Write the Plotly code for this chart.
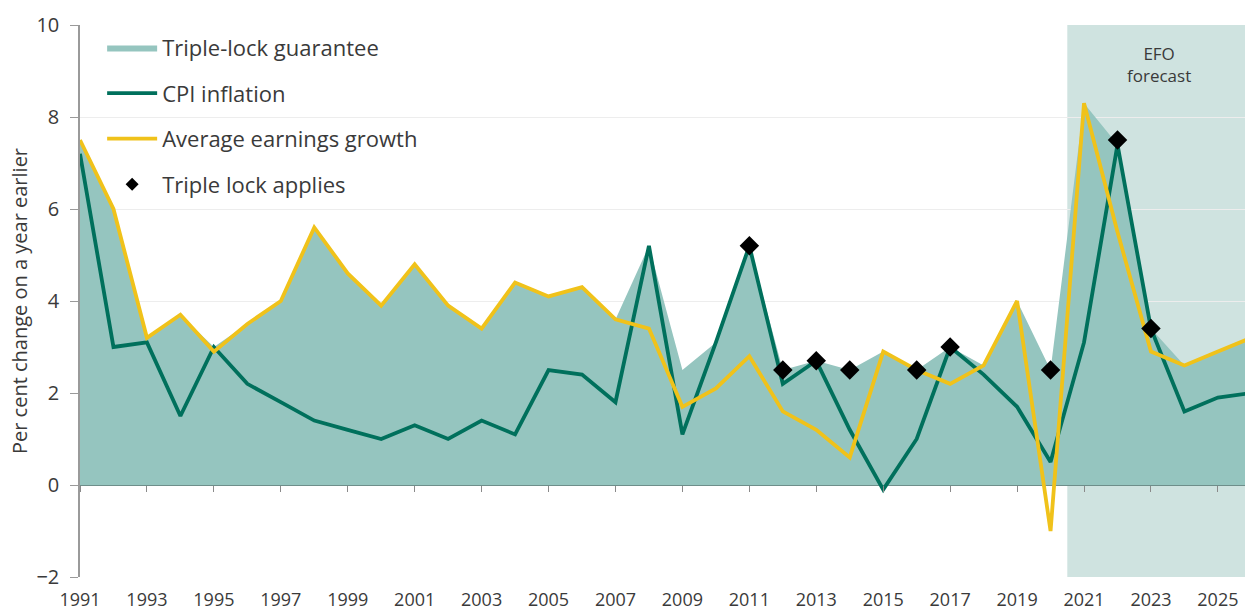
import plotly.graph_objects as go

years = list(range(1991, 2027))
cpi = [7.2, 3.0, 3.1, 1.5, 3.0, 2.2, 1.8, 1.4, 1.2, 1.0, 1.3, 1.0, 1.4, 1.1, 2.5, 2.4, 1.8, 5.2,
       1.1, 3.1, 5.2, 2.2, 2.7, 1.2, -0.1, 1.0, 3.0, 2.4, 1.7, 0.5, 3.1, 7.4, 3.4, 1.6, 1.9, 2.0]
earnings = [7.5, 6.0, 3.2, 3.7, 2.9, 3.5, 4.0, 5.6, 4.6, 3.9, 4.8, 3.9, 3.4, 4.4, 4.1, 4.3, 3.6, 3.4,
            1.7, 2.1, 2.8, 1.6, 1.2, 0.6, 2.9, 2.5, 2.2, 2.6, 4.0, -1.0, 8.3, 5.5, 2.9, 2.6, 2.9, 3.2]
guarantee = [7.5, 6.0, 3.2, 3.7, 3.0, 3.5, 4.0, 5.6, 4.6, 3.9, 4.8, 3.9, 3.4, 4.4, 4.1, 4.3, 3.6, 5.2,
             2.5, 3.1, 5.2, 2.5, 2.7, 2.5, 2.9, 2.5, 3.0, 2.6, 4.0, 2.5, 8.3, 7.4, 3.4, 2.6, 2.9, 3.2]
lock_years = [2011, 2012, 2013, 2014, 2016, 2017, 2020, 2022, 2023]
lock_values = [5.2, 2.5, 2.7, 2.5, 2.5, 3.0, 2.5, 7.5, 3.4]
xtick_years = list(range(1991, 2026, 2))
ytick_vals = [-2, 0, 2, 4, 6, 8, 10]
forecast_start = 2020.5
forecast_end = 2026
x_end = 2025.81

FILL = "#95c5bf"
SHADE = "#cfe3e0"
GREEN = "#00705c"
YELLOW = "#f0c21a"
TEXT = "#3a3a3a"
FONT = "Open Sans"

fig = go.Figure()
fig.add_trace(go.Scatter(x=years, y=guarantee, name="Triple-lock guarantee", mode="lines",
                         line=dict(width=0, color=FILL), fill="tozeroy", fillcolor=FILL,
                         legendgroup="a"))
fig.add_trace(go.Scatter(x=years, y=cpi, name="CPI inflation", mode="lines",
                         line=dict(width=3.8, color=GREEN), legendgroup="b"))
fig.add_trace(go.Scatter(x=years, y=earnings, name="Average earnings growth", mode="lines",
                         line=dict(width=3.8, color=YELLOW), legendgroup="c"))
fig.add_trace(go.Scatter(x=lock_years, y=lock_values, name="Triple lock applies", mode="markers",
                         marker=dict(symbol="diamond", size=15, color="black"),
                         legendgroup="d", showlegend=False))
# legend entry with a smaller diamond, as in the reference key
fig.add_trace(go.Scatter(x=[None], y=[None], name="Triple lock applies", mode="markers",
                         marker=dict(symbol="diamond", size=10, color="black"),
                         legendgroup="d"))
# invisible trace carrying the tick axis that sits on the zero line
fig.add_trace(go.Scatter(x=years, y=cpi, xaxis="x2", mode="lines", opacity=0,
                         showlegend=False, hoverinfo="skip"))

fig.add_shape(type="rect", xref="x", yref="y", x0=forecast_start, x1=forecast_end, y0=-2, y1=10,
              fillcolor=SHADE, line=dict(width=0), layer="below")
fig.add_annotation(x=(forecast_start + forecast_end) / 2, y=9.15, xref="x", yref="y",
                   text="EFO<br>forecast", showarrow=False,
                   font=dict(family=FONT, size=17, color=TEXT), align="center")

fig.update_layout(
    width=1245, height=611,
    margin=dict(l=80, r=0, t=25, b=34),
    paper_bgcolor="white", plot_bgcolor="white",
    font=dict(family=FONT, color=TEXT),
    showlegend=True,
    legend=dict(x=0.019, y=0.997, xanchor="left", yanchor="top",
                bgcolor="rgba(0,0,0,0)", font=dict(family=FONT, size=22, color=TEXT),
                traceorder="grouped", tracegroupgap=14, itemwidth=50),
    xaxis=dict(range=[1991, x_end], tickmode="array", tickvals=xtick_years,
               ticktext=[str(v) for v in xtick_years], showgrid=False, zeroline=False,
               showline=False, ticks="", ticklabelstandoff=10, automargin=False,
               tickfont=dict(family=FONT, size=18, color=TEXT)),
    xaxis2=dict(overlaying="x", anchor="free", position=2 / 12, range=[1991, x_end],
                tickmode="array", tickvals=xtick_years, showticklabels=False,
                ticks="outside", ticklen=6, tickcolor="#8a8a8a", showgrid=False,
                zeroline=False, showline=False, automargin=False),
    yaxis=dict(range=[-2, 10], tickmode="array", tickvals=ytick_vals,
               showline=True, linecolor="#9a9a9a", linewidth=1.5,
               ticks="outside", ticklen=8, tickcolor="#9a9a9a",
               showgrid=True, gridcolor="#ededed", gridwidth=1,
               zeroline=True, zerolinecolor="#6e8e8a", zerolinewidth=1.5,
               ticklabelstandoff=7, automargin=False,
               tickfont=dict(family=FONT, size=20, color=TEXT),
               title=dict(text="Per cent change on a year earlier",
                          font=dict(family=FONT, size=20, color=TEXT), standoff=3)),
)

fig.write_html(
    "out.html",
    config={"displayModeBar": False},
    post_script="document.body.style.margin='0';document.body.style.overflow='hidden';",
)
